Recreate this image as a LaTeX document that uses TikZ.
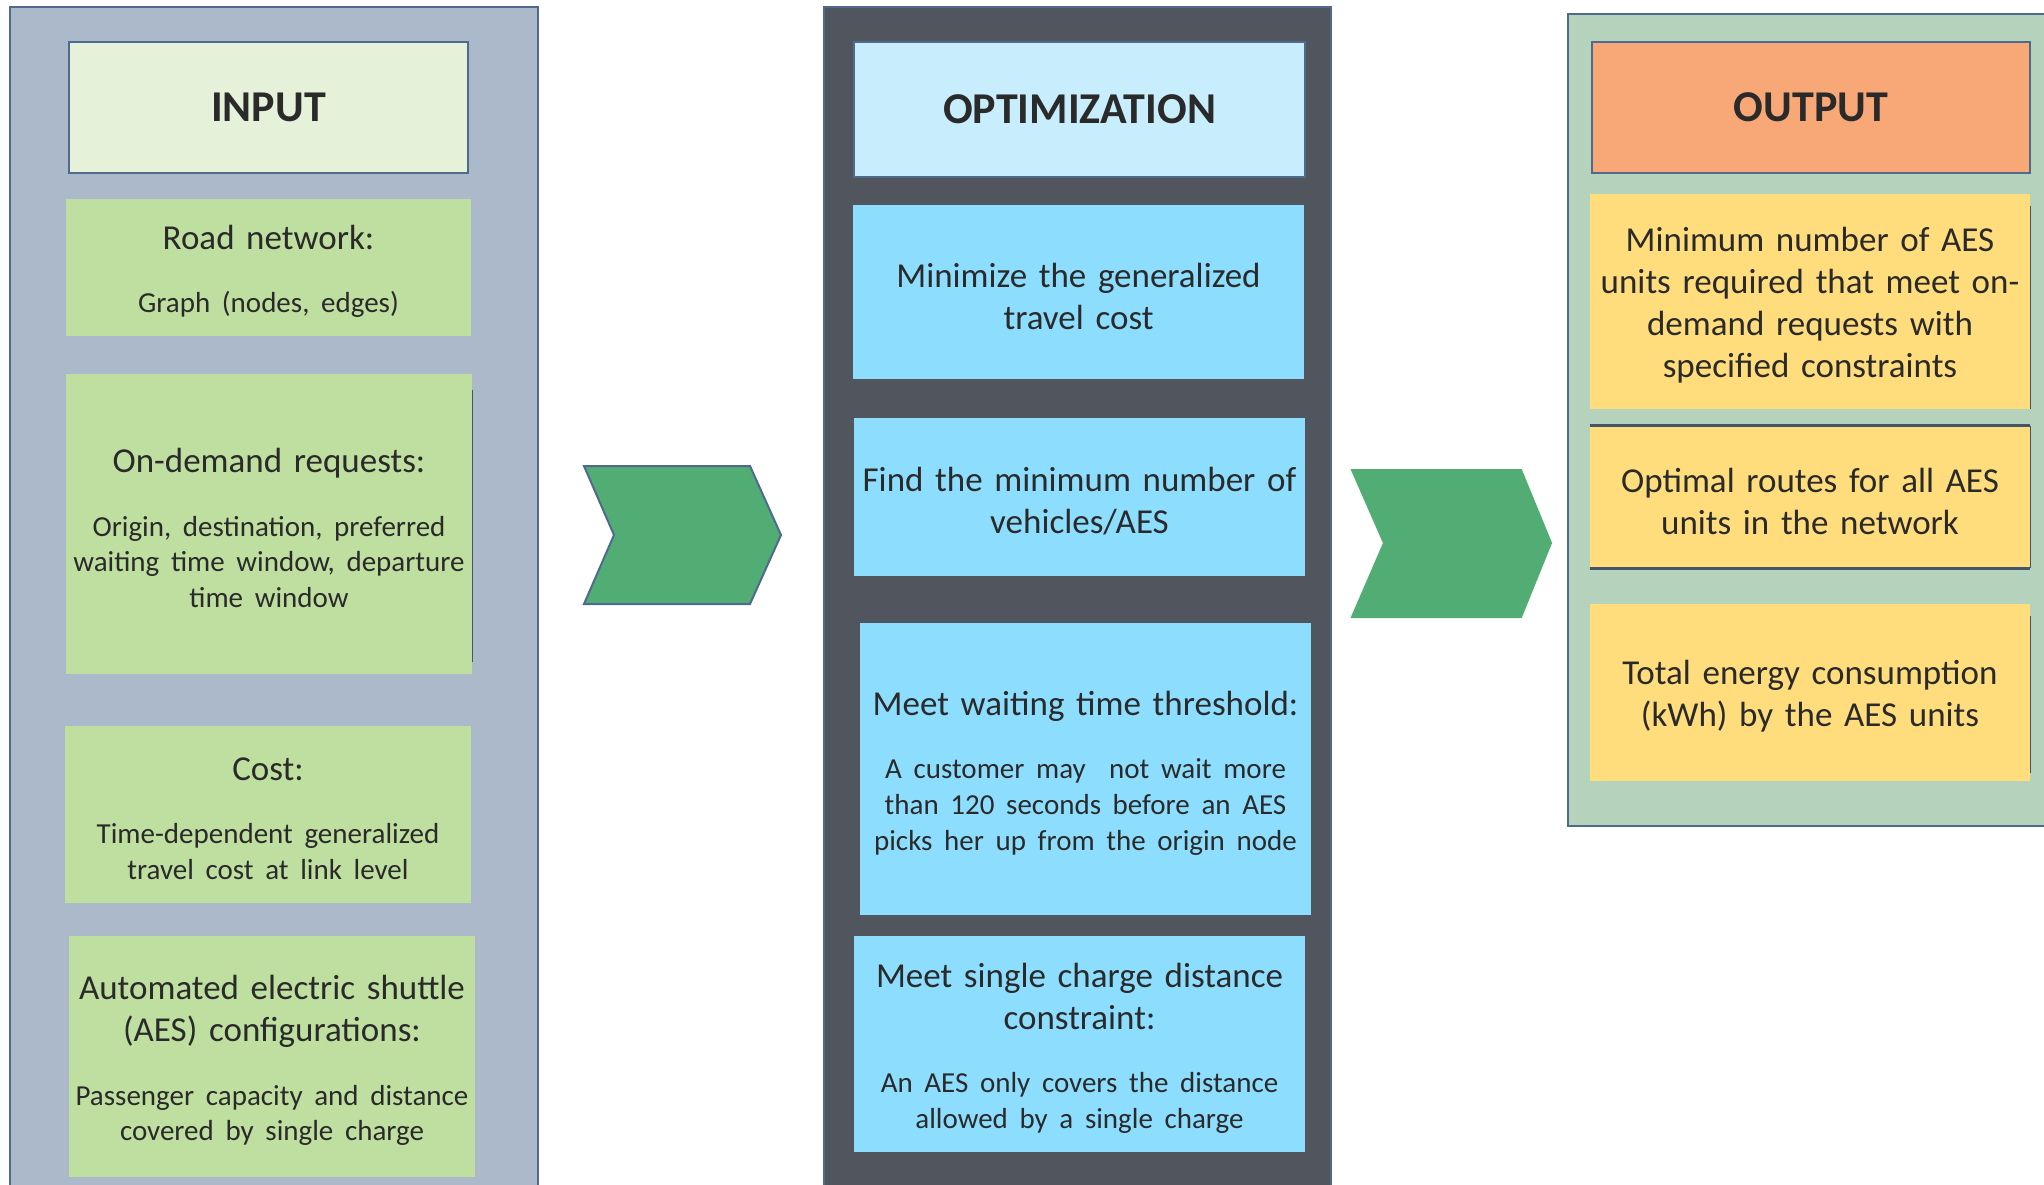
\documentclass[tikz,border=0pt]{standalone}
\usepackage{fontspec}
\setmainfont{Carlito}

\definecolor{txt}{HTML}{2A2A2A}
\definecolor{rim}{HTML}{4F6A8C}
\definecolor{edgedark}{HTML}{44546A}
\definecolor{inbg}{HTML}{ACB9CA}
\definecolor{inhead}{HTML}{E5F2D9}
\definecolor{ingreen}{HTML}{BFDFA0}
\definecolor{optbg}{HTML}{50555E}
\definecolor{opthead}{HTML}{C8EEFD}
\definecolor{optblue}{HTML}{8DDEFE}
\definecolor{outbg}{HTML}{B4D2BC}
\definecolor{outhead}{HTML}{F8A877}
\definecolor{outyellow}{HTML}{FFDC7C}
\definecolor{chev}{HTML}{52AD74}

% heading lines and the smaller detail lines under them
\newcommand{\headfont}{\fontsize{17.5}{21}\selectfont}
\newcommand{\subfont}{\fontsize{14.5}{17.8}\selectfont}
\newcommand{\detail}[1]{\par\vspace{14pt}{\subfont #1\par}}

\begin{document}
\begin{tikzpicture}[x=0.5pt,y=-0.5pt,
  sz/.style n args={2}{minimum width=#1*0.5pt, minimum height=#2*0.5pt},
  panel/.style={draw=rim, line width=1pt},
  shell/.style={rectangle, inner sep=0pt},
  words/.style={inner sep=0pt, text=txt, align=center, font=\headfont,
                text width=#1, execute at begin node={\parskip=0pt}},
  title/.style={rectangle, inner sep=0pt, text=txt, draw=rim, line width=1pt,
                font=\fontsize{22}{26}\selectfont\bfseries},
  edgeline/.style={draw=edgedark, line width=0.6pt},
  chevron/.style={fill=chev, draw=rim, line width=1pt, line join=miter}
]
\useasboundingbox (0,0) rectangle (2044,1184);

% three column panels
\path[panel, fill=inbg]  (10,7)    rectangle (538,1200);
\path[panel, fill=optbg] (824,7)   rectangle (1331,1200);
\path[panel, fill=outbg] (1568,14) rectangle (2060,826);

% ---- input column ----
\node[title, fill=inhead, sz={399}{131}] (inT) at (268.5,107) {INPUT};
\node[shell, fill=ingreen, sz={405}{137}] (road) at (268.5,267.5) {};
\node[shell, fill=ingreen, sz={406}{300}] (req)  at (269,524) {};
\node[shell, fill=ingreen, sz={406}{177}] (cost) at (268,814.5) {};
\node[shell, fill=ingreen, sz={406}{241}] (aes)  at (272,1056.5) {};
\draw[edgeline] ([yshift=-8pt]req.north east) -- ([yshift=6pt]req.south east);

\node[words=197pt] (roadT) at ([yshift=-2pt]road.center)
  {Road network:\detail{Graph (nodes, edges)}};
\node[words=197pt] (reqT) at ([yshift=-2pt]req.center)
  {On-demand requests:\detail{Origin, destination, preferred\\waiting time window, departure\\time window}};
\node[words=197pt] (costT) at ([yshift=-2pt]cost.center)
  {Cost:\detail{Time-dependent generalized\\travel cost at link level}};
\node[words=197pt] (aesT) at ([yshift=-2pt]aes.center)
  {Automated electric shuttle\\(AES) configurations:\detail{Passenger capacity and distance\\covered by single charge}};

% ---- optimization column ----
\node[title, fill=opthead, sz={451}{135}] (optT) at (1079.5,109.5) {OPTIMIZATION};
\node[shell, fill=optblue, sz={451}{174}] (gen)    at (1078.5,292) {};
\node[shell, fill=optblue, sz={451}{158}] (fleet)  at (1079.5,497) {};
\node[shell, fill=optblue, sz={451}{292}] (wait)   at (1085.5,769) {};
\node[shell, fill=optblue, sz={451}{216}] (charge) at (1079.5,1044) {};

\node[words=222pt] (genT) at ([yshift=-2pt]gen.center)
  {Minimize the generalized\\travel cost\par};
\node[words=222pt] (fleetT) at ([yshift=-2pt]fleet.center)
  {Find the minimum number of\\vehicles/AES\par};
\node[words=222pt] (waitT) at ([yshift=-2pt]wait.center)
  {Meet waiting time threshold:\detail{A customer may\ \ not wait more\\than 120 seconds before an AES\\picks her up from the origin node}};
\node[words=222pt] (chargeT) at ([yshift=-2pt]charge.center)
  {Meet single charge distance\\constraint:\detail{An AES only covers the distance\\allowed by a single charge}};

% ---- output column ----
\node[title, fill=outhead, sz={438}{131}] (outT) at (1811,107.5) {OUTPUT};
\node[shell, fill=outyellow, sz={440}{215}] (units)  at (1810,301.5) {};
\node[shell, fill=outyellow, sz={440}{142}] (routes) at (1810,497) {};
\node[shell, fill=outyellow, sz={440}{177}] (energy) at (1810,692.5) {};
\draw[edgeline] ([yshift=-6pt]units.north east) -- (units.south east);
\draw[edgeline] ([yshift=-6pt]energy.north east) -- ([yshift=4pt]energy.south east);
\draw[edgeline] (routes.north east) -- (routes.south east);
\draw[draw=edgedark, line width=1.6pt] (routes.north west) -- (routes.north east);
\draw[draw=edgedark, line width=1.6pt] (routes.south west) -- (routes.south east);

\node[words=218pt] (unitsT) at ([yshift=-2pt]units.center)
  {Minimum number of AES\\units required that meet on-\\demand requests with\\specified constraints\par};
\node[words=218pt] (routesT) at ([yshift=-2pt]routes.center)
  {Optimal routes for all AES\\units in the network\par};
\node[words=218pt] (energyT) at ([yshift=-2pt]energy.center)
  {Total energy consumption\\(kWh) by the AES units\par};

% ---- flow chevrons between the columns ----
\path[chevron] (584,466) -- (750,466) -- (781,535) -- (750,604) -- (584,604) -- (614,535) -- cycle;
\path[chevron, draw=chev] (1352,470) -- (1521,470) -- (1551,543) -- (1521,617) -- (1352,617) -- (1384,543) -- cycle;
\end{tikzpicture}
\end{document}
